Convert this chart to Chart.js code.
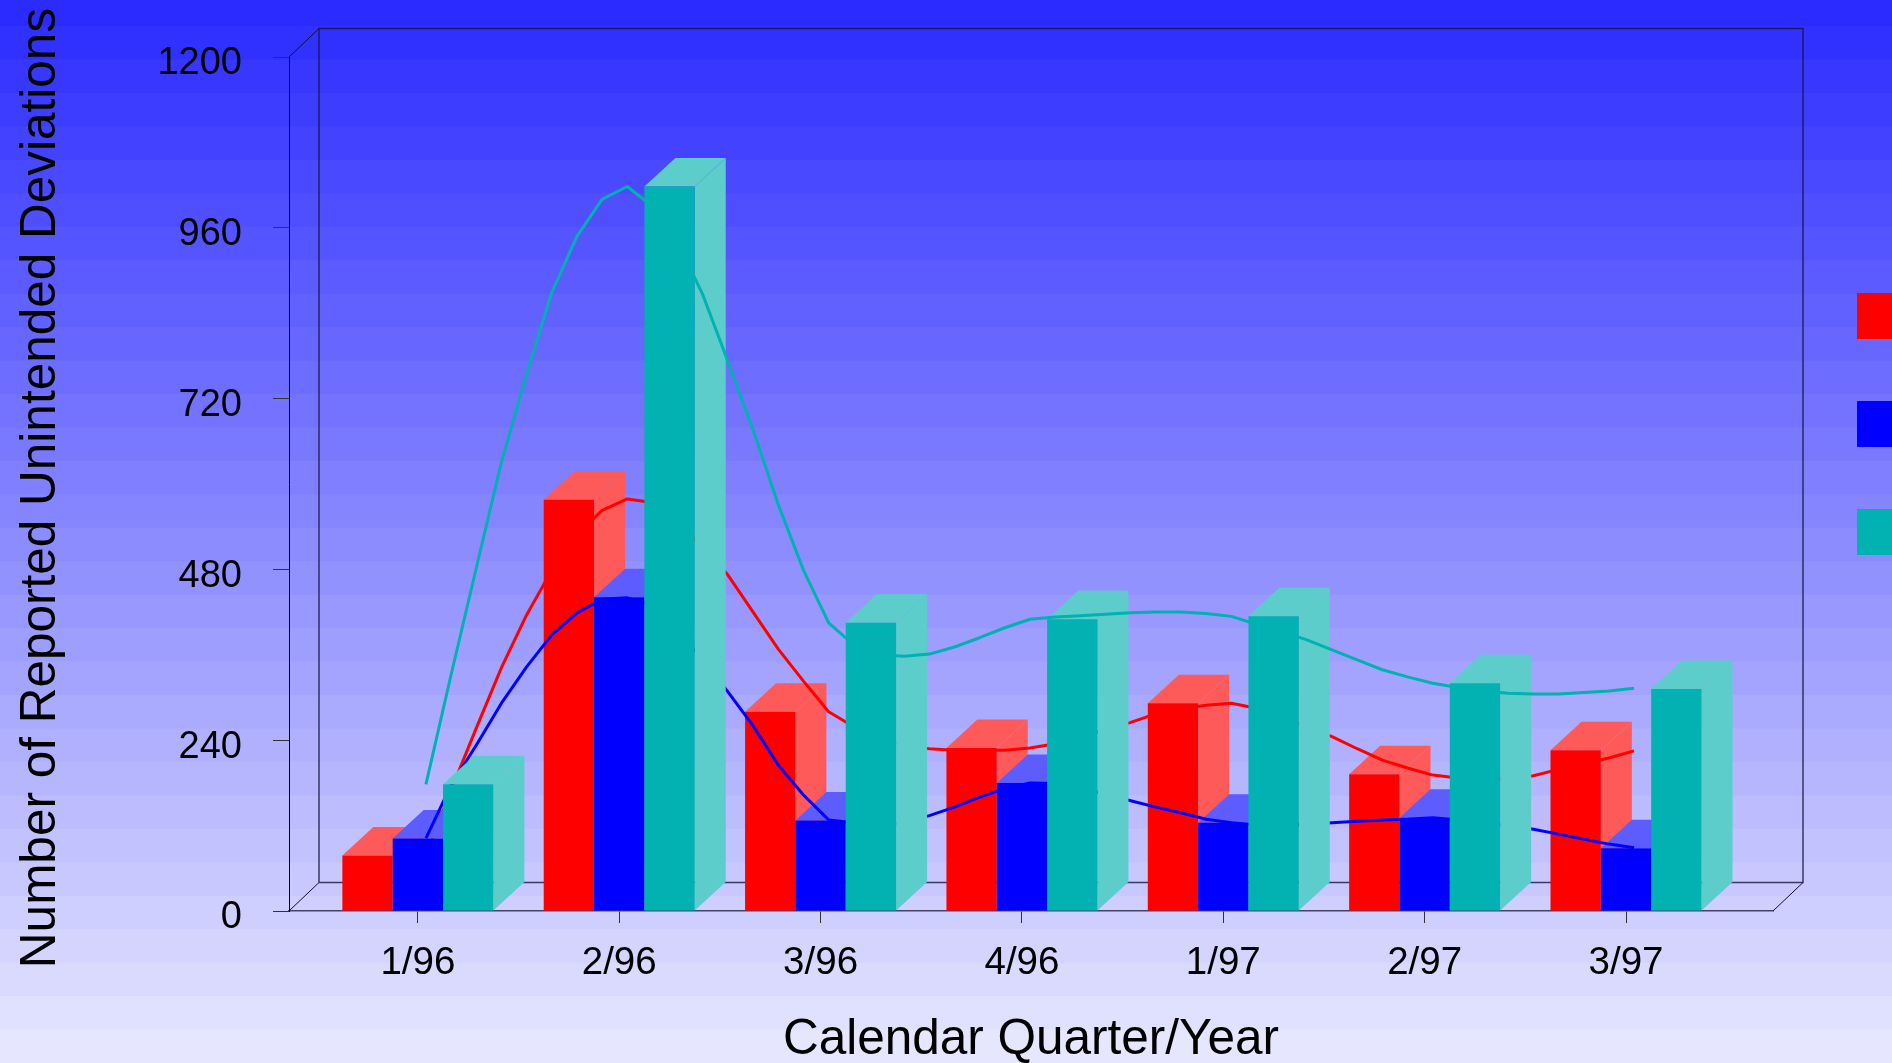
<!DOCTYPE html>
<html>
<head>
<meta charset="utf-8">
<title>Unintended Deviations</title>
<style>
    html, body { margin: 0; padding: 0; background: #2b2bff; overflow: hidden; }
    canvas { display: block; }
</style>
<script src="https://cdn.jsdelivr.net/npm/chart.js@4/dist/chart.umd.min.js"></script>
</head>
<body>
<canvas id="chart" width="1892" height="1063"></canvas>
<script>
const quarters = ['1/96', '2/96', '3/96', '4/96', '1/97', '2/97', '3/97'];
const yTicks = [0, 240, 480, 720, 960, 1200];
const redValues = [78, 578, 280, 229, 292, 192, 226];
const blueValues = [102, 441, 127, 180, 124, 131, 88];
const tealValues = [178, 1018, 405, 410, 414, 320, 312];

// the smoothed lines at eight steps per quarter
const redLine = [
    78, 170, 257, 342, 416, 479, 529, 563, 579,
    574, 546, 512, 472, 420, 368, 323, 280,
    259, 245, 232, 228, 226, 226, 226, 229,
    235, 245, 254, 265, 277, 284, 289, 292,
    285, 273, 259, 245, 228, 212, 201, 191,
    187, 184, 186, 190, 199, 207, 215, 225
];
const blueLine = [
    102, 177, 233, 292, 343, 388, 419, 438, 440,
    430, 395, 353, 308, 260, 205, 163, 128,
    124, 120, 124, 134, 146, 160, 172, 180,
    179, 173, 164, 155, 146, 138, 129, 124,
    121, 120, 122, 124, 126, 128, 129, 131,
    128, 124, 120, 115, 108, 101, 94, 89
];
const tealLine = [
    178, 332, 482, 631, 754, 869, 948, 1000, 1018,
    990, 939, 866, 772, 676, 571, 479, 405,
    374, 360, 358, 361, 371, 384, 398, 410,
    413, 415, 417, 419, 420, 420, 418, 414,
    403, 393, 381, 367, 353, 339, 329, 320,
    314, 309, 306, 305, 305, 307, 309, 313
];

const FONT = '"Liberation Sans", Arial, sans-serif';
const DEPTH_X = 31;
const DEPTH_Y = 28.5;
const LINE_SHIFT = 0.04;  // the lines sit a little behind the front of the bars
const STEPS = 8;

const points = values => values.map((y, i) => ({ x: i, y }));
const linePoints = values => values.map((y, i) => ({ x: i / STEPS + LINE_SHIFT, y }));

function barSet(label, values, color, light) {
    return {
        type: 'bar',
        label,
        data: points(values),
        backgroundColor: color,
        lightColor: light,
        borderWidth: 0,
        categoryPercentage: 0.75,
        barPercentage: 1,
        order: 1,
        clip: false
    };
}

function lineSet(label, values, color) {
    return {
        type: 'line',
        label,
        data: linePoints(values),
        borderColor: color,
        borderWidth: 3,
        borderJoinStyle: 'round',
        pointRadius: 0,
        tension: 0,
        fill: false,
        order: 2,
        clip: false
    };
}

function poly(ctx, color, coords) {
    ctx.fillStyle = color;
    ctx.beginPath();
    coords.forEach(([x, y], i) => i ? ctx.lineTo(x, y) : ctx.moveTo(x, y));
    ctx.closePath();
    ctx.fill();
}

const bandedBackground = {
    id: 'bandedBackground',
    beforeDraw(chart) {
        const ctx = chart.ctx;
        const bandH = 33.45;
        const first = -7.45;
        const count = 32;
        for (let i = 0; i < count; i++) {
            const t = i / (count - 1);
            const c = Math.round(43 + (230 - 43) * t);
            ctx.fillStyle = `rgb(${c},${c},255)`;
            ctx.fillRect(0, first + i * bandH, chart.width, bandH + 1);
        }
    }
};

// back wall and floor of the 3D box, drawn behind everything
const box3d = {
    id: 'box3d',
    beforeDatasetsDraw(chart) {
        const { ctx, chartArea: a } = chart;
        const dx = 30, dy = 28.5;
        ctx.save();
        ctx.strokeStyle = 'rgba(20,20,60,0.8)';
        ctx.lineWidth = 1.5;
        ctx.beginPath();
        ctx.moveTo(a.left + dx, a.bottom - dy);
        ctx.lineTo(a.left + dx, a.top - dy);
        ctx.lineTo(a.right + dx, a.top - dy);
        ctx.lineTo(a.right + dx, a.bottom - dy);
        ctx.lineTo(a.left + dx, a.bottom - dy);
        ctx.stroke();
        ctx.strokeStyle = '#10102a';
        ctx.lineWidth = 1;
        ctx.beginPath();
        ctx.moveTo(a.left, a.top);
        ctx.lineTo(a.left + dx, a.top - dy);
        ctx.moveTo(a.left, a.bottom);
        ctx.lineTo(a.left + dx, a.bottom - dy);
        ctx.moveTo(a.right, a.bottom);
        ctx.lineTo(a.right + dx, a.bottom - dy);
        ctx.stroke();
        ctx.restore();
    }
};

// series are painted one after another: bar faces, bar front, then that series' line
const bars3d = {
    id: 'bars3d',
    beforeDatasetDraw() {
        return false;
    },
    afterDatasetsDraw(chart) {
        const ctx = chart.ctx;
        const metas = chart.getSortedVisibleDatasetMetas();
        const lines = metas.filter(m => m.type === 'line');
        metas.filter(m => m.type === 'bar').forEach((meta, i) => {
            const light = chart.data.datasets[meta.index].lightColor;
            meta.data.forEach(bar => {
                const { x, y, base, width } = bar.getProps(['x', 'y', 'base', 'width']);
                const l = x - width / 2, r = x + width / 2;
                poly(ctx, light, [[r, y], [r + DEPTH_X, y - DEPTH_Y], [r + DEPTH_X, base - DEPTH_Y], [r, base]]);
                poly(ctx, light, [[l, y], [l + DEPTH_X, y - DEPTH_Y], [r + DEPTH_X, y - DEPTH_Y], [r, y]]);
            });
            meta.controller.draw();
            lines[i].controller.draw();
        });
    }
};

// legend swatches run off the right edge of the picture, their text is cut away
const cutLegend = {
    id: 'cutLegend',
    afterDraw(chart) {
        const ctx = chart.ctx;
        chart.data.datasets.filter(d => d.type === 'bar').forEach((d, i) => {
            ctx.fillStyle = d.backgroundColor;
            ctx.fillRect(1857, 293 + i * 108, 35, 46);
        });
    }
};

// the library centres this title on the axis, the original sits a few pixels lower
const yAxisTitle = {
    id: 'yAxisTitle',
    afterDraw(chart) {
        const ctx = chart.ctx;
        ctx.save();
        ctx.translate(41.5, 488);
        ctx.rotate(-Math.PI / 2);
        ctx.fillStyle = '#000';
        ctx.font = `49.5px ${FONT}`;
        ctx.textAlign = 'center';
        ctx.textBaseline = 'middle';
        ctx.fillText('Number of Reported Unintended Deviations', 0, 0);
        ctx.restore();
    }
};

new Chart(document.getElementById('chart').getContext('2d'), {
    type: 'bar',
    data: {
        datasets: [
            barSet('Red', redValues, '#ff0000', '#ff5a5a'),
            barSet('Blue', blueValues, '#0000ff', '#5c5cff'),
            barSet('Teal', tealValues, '#02b1b1', '#5ccdcb'),
            lineSet('Red line', redLine, '#ff0000'),
            lineSet('Blue line', blueLine, '#0000ff'),
            lineSet('Teal line', tealLine, '#02b1b1')
        ]
    },
    options: {
        responsive: false,
        animation: false,
        layout: { padding: { top: 57, right: 119, left: 0, bottom: 0 } },
        plugins: {
            legend: { display: false },
            tooltip: { enabled: false }
        },
        scales: {
            x: {
                type: 'linear',
                offset: false,
                min: -0.64,
                max: 6.73,
                afterFit: s => { s.height = 152; },
                border: { color: '#444466', width: 1.5 },
                grid: { offset: false, drawOnChartArea: false, color: '#333', tickLength: 12 },
                ticks: {
                    stepSize: 1,
                    includeBounds: false,
                    autoSkip: false,
                    maxRotation: 0,
                    padding: 17,
                    color: '#000',
                    font: { family: FONT, size: 38.5 },
                    callback: v => quarters[Math.round(v)]
                },
                title: {
                    display: true,
                    text: 'Calendar Quarter/Year',
                    color: '#000',
                    font: { family: FONT, size: 49.5, lineHeight: 0.92 },
                    padding: { top: 0, bottom: 0 }
                }
            },
            y: {
                min: yTicks[0],
                max: yTicks[yTicks.length - 1],
                afterFit: s => { s.width = 289; },
                border: { color: '#000', width: 1 },
                grid: { drawOnChartArea: false, color: '#333', tickLength: 16 },
                ticks: {
                    stepSize: 240,
                    padding: 31,
                    labelOffset: 7,
                    color: '#000',
                    font: { family: FONT, size: 38 },
                    callback: v => String(v)
                }
            }
        }
    },
    plugins: [bandedBackground, box3d, bars3d, cutLegend, yAxisTitle]
});
</script>
</body>
</html>
